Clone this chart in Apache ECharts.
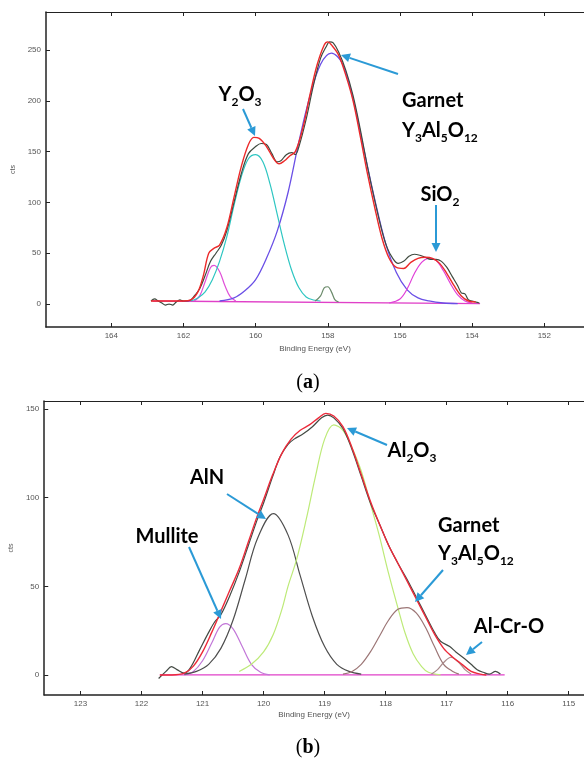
<!DOCTYPE html>
<html><head><meta charset="utf-8">
<script src="https://cdn.jsdelivr.net/npm/echarts@6/dist/echarts.min.js"></script>
<style>html,body{margin:0;padding:0;background:#fff}#c{width:584px;height:759px}</style>
</head><body><div id="c"></div>
<script>
// ---------- (a) Y 3d region ----------
const topXTicks = [164, 162, 160, 158, 156, 154, 152];
const topYTicks = [0, 50, 100, 150, 200, 250];
const topRaw = [[162.9,3],[162.8,5],[162.7,3],[162.6,1],[162.5,-1],[162.4,0],[162.3,-1],[162.2,2],[162.1,4],[162.0,3],[161.9,3],[161.8,4],[161.7,8],[161.55,15],[161.4,28],[161.25,42],[161.1,50],[160.95,58],[160.8,72],[160.6,100],[160.4,128],[160.2,148],[160.0,155],[159.85,158],[159.7,157],[159.55,148],[159.4,140],[159.3,141],[159.15,147],[159.0,149],[158.9,147],[158.8,155],[158.6,182],[158.4,215],[158.2,242],[158.05,253],[157.95,258],[157.85,257],[157.7,248],[157.5,230],[157.3,205],[157.1,172],[156.9,135],[156.7,102],[156.5,72],[156.35,55],[156.2,45],[156.05,40],[155.9,42],[155.75,47],[155.6,49],[155.45,48],[155.3,46],[155.15,44],[155.0,44],[154.85,42],[154.7,36],[154.55,27],[154.4,18],[154.3,11],[154.2,10],[154.1,4],[154.0,3],[153.9,2],[153.8,1]];
const topFit = [[162.9,3],[162.0,3],[161.8,4],[161.6,12],[161.45,28],[161.3,50],[161.15,55],[161.0,58],[160.8,75],[160.6,105],[160.4,135],[160.2,157],[160.05,164],[159.9,163],[159.7,155],[159.5,143],[159.35,138],[159.2,141],[159.05,146],[158.9,150],[158.7,172],[158.5,205],[158.3,235],[158.1,255],[158.0,258],[157.9,255],[157.7,245],[157.5,225],[157.3,200],[157.1,165],[156.9,128],[156.7,95],[156.5,65],[156.3,45],[156.1,36],[155.9,35],[155.7,41],[155.5,45],[155.3,46],[155.1,45],[154.9,40],[154.7,30],[154.5,18],[154.3,8],[154.1,3],[153.9,2]];
const topY2O3 = [[161.8,3],[161.6,6],[161.4,12],[161.2,24],[161.0,42],[160.8,66],[160.6,97],[160.4,125],[160.2,143],[160.0,147],[159.8,140],[159.6,118],[159.4,88],[159.2,58],[159.0,33],[158.8,16],[158.6,7],[158.4,4],[158.2,3]];
const topSmallPeak = [[161.7,3],[161.55,8],[161.4,22],[161.25,36],[161.15,38],[161.0,32],[160.85,18],[160.7,7],[160.55,3]];
const topGarnet = [[161.0,3],[160.6,6],[160.3,13],[160.0,24],[159.7,45],[159.4,72],[159.1,110],[158.8,160],[158.5,204],[158.2,236],[157.9,247],[157.6,237],[157.3,202],[157.0,152],[156.7,103],[156.4,60],[156.1,31],[155.8,14],[155.5,6],[155.2,3],[154.8,1],[154.4,0.5]];
const topSiO2 = [[156.3,1],[156.0,5],[155.8,15],[155.6,30],[155.4,41],[155.2,45],[155.0,43],[154.8,33],[154.6,20],[154.4,9],[154.2,3],[154.0,1]];
const topBump = [[158.35,3],[158.2,8],[158.1,16],[158.0,17],[157.9,12],[157.8,4],[157.7,2]];
const topBase = [[162.86,3],[153.78,0.5]];

// ---------- (b) Al 2p region ----------
const botXTicks = [123, 122, 121, 120, 119, 118, 117, 116, 115];
const botYTicks = [0, 50, 100, 150];
const botRaw = [[121.72,-2],[121.6,2],[121.51,4.7],[121.42,3],[121.3,1],[121.2,4],[121.05,14],[120.9,24],[120.8,30],[120.7,34],[120.55,45],[120.4,58],[120.25,73],[120.1,88],[120.0,97],[119.85,112],[119.73,123],[119.6,130],[119.5,133],[119.35,136],[119.2,140],[119.05,145],[118.95,146.5],[118.85,145],[118.7,139],[118.55,127],[118.4,112],[118.25,97],[118.1,85],[117.95,73],[117.8,63],[117.65,54],[117.5,44],[117.35,34],[117.2,24],[117.1,19],[116.95,16],[116.85,13],[116.7,9],[116.6,6],[116.5,3],[116.4,1.5],[116.3,0.5],[116.2,2],[116.12,0.5]];
const botFit = [[121.7,0],[121.5,0],[121.3,1],[121.15,5],[121.0,13],[120.85,24],[120.7,36],[120.55,48],[120.4,60],[120.25,75],[120.1,90],[120.0,99],[119.85,113],[119.7,125],[119.55,133],[119.4,138],[119.25,141],[119.1,145],[118.98,147.5],[118.85,146],[118.7,140],[118.55,128],[118.4,113],[118.25,98],[118.1,85],[117.95,73],[117.8,63],[117.65,53],[117.5,43],[117.35,33],[117.2,23],[117.05,15],[116.9,10],[116.75,6],[116.6,2],[116.45,0.5],[116.35,0]];
const botMullite = [[121.3,0],[121.15,2],[121.0,8],[120.85,18],[120.72,27],[120.62,29],[120.5,26],[120.35,16],[120.2,6],[120.05,1.5],[119.9,0]];
const botAlN = [[121.3,0.5],[121.1,2],[120.9,6],[120.7,15],[120.5,31],[120.3,54],[120.1,77],[119.84,91],[119.6,79],[119.4,56],[119.2,33],[119.0,16],[118.8,6],[118.6,2],[118.4,0.5]];
const botAl2O3 = [[120.4,2],[120.2,6],[120.0,13],[119.84,23],[119.7,37],[119.6,50],[119.46,65],[119.3,88],[119.15,112],[119.0,133],[118.85,141],[118.7,138],[118.55,128],[118.4,115],[118.22,93],[118.1,78],[117.95,57],[117.8,38],[117.68,23.5],[117.55,12],[117.41,4.7],[117.3,1.5],[117.1,0]];
const botGarnet = [[118.7,0.5],[118.55,2],[118.4,6],[118.25,13],[118.1,22],[117.95,31],[117.8,37],[117.65,38],[117.5,35],[117.35,27],[117.2,16],[117.05,6],[116.9,2],[116.8,0.5]];
const botAlCrO = [[117.25,0.5],[117.15,3],[117.05,7],[116.93,10],[116.8,7],[116.7,3],[116.6,0.5]];
const botBase = [[121.7,0],[116.05,0]];

const chart = echarts.init(document.getElementById('c'), null, {renderer: 'canvas'});

const AX = '#222';
const LBL = {fontSize: 8, color: '#555', fontFamily: 'Liberation Sans'};

function xAxes(grid, min, max, ticks, nameGap) {
  return [
    {type: 'value', gridIndex: grid, inverse: true, min: min, max: max, position: 'bottom',
     axisLine: {show: true, onZero: false, lineStyle: {color: AX, width: 1.5}},
     axisTick: {show: true, inside: true, length: 4, customValues: ticks, lineStyle: {color: AX}},
     axisLabel: Object.assign({show: true, margin: 5, customValues: ticks}, LBL),
     splitLine: {show: false},
     name: 'Binding Energy (eV)', nameLocation: 'middle', nameGap: nameGap,
     nameTextStyle: {fontSize: 8, color: '#555', fontFamily: 'Liberation Sans'}},
    {type: 'value', gridIndex: grid, inverse: true, min: min, max: max, position: 'top',
     axisLine: {show: true, onZero: false, lineStyle: {color: AX, width: 1.2}},
     axisTick: {show: true, inside: true, length: 4, customValues: ticks, lineStyle: {color: AX}},
     axisLabel: {show: false}, splitLine: {show: false}}
  ];
}
function yAxis(grid, min, max, ticks, gap) {
  return {type: 'value', gridIndex: grid, min: min, max: max,
    axisLine: {show: true, onZero: false, lineStyle: {color: AX, width: 1.5}},
    axisTick: {show: true, inside: true, length: 4, customValues: ticks, lineStyle: {color: AX}},
    axisLabel: Object.assign({show: true, margin: 5, customValues: ticks}, LBL),
    splitLine: {show: false},
    name: 'cts', nameLocation: 'middle', nameGap: gap, nameRotate: 90,
    nameTextStyle: {fontSize: 7, color: '#555', fontFamily: 'Liberation Sans'}};
}
function ln(data, color, xi, yi, w, z) {
  return {type: 'line', data: data, xAxisIndex: xi, yAxisIndex: yi, showSymbol: false, smooth: 0.35,
    silent: true, lineStyle: {color: color, width: w || 1.2}, z: z || 2, animation: false};
}

const ARROW = '#2b9ad6';
function arrow(x1, y1, x2, y2) {
  const dx = x2 - x1, dy = y2 - y1, L = Math.sqrt(dx*dx + dy*dy);
  const ux = dx / L, uy = dy / L, hl = 9, hw = 4.5;
  const bx = x2 - ux*hl, by = y2 - uy*hl;
  return [
    {type: 'line', silent: true, z: 20, shape: {x1: x1, y1: y1, x2: bx, y2: by}, style: {stroke: ARROW, lineWidth: 2}},
    {type: 'polygon', silent: true, z: 20, shape: {points: [[x2, y2], [bx - uy*hw, by + ux*hw], [bx + uy*hw, by - ux*hw]]}, style: {fill: ARROW}}
  ];
}
const RICH = {
  b: {fontSize: 20, fontWeight: 'bold', fontFamily: 'Lato', color: '#1a1a1a', lineHeight: 24, verticalAlign: 'bottom', padding: [0,0,3,0]},
  s: {fontSize: 12, fontWeight: 'bold', fontFamily: 'Lato', color: '#1a1a1a', lineHeight: 24, verticalAlign: 'bottom', padding: [0,0,0,0]}
};
function label(text, x, y, align) {
  return {type: 'text', silent: true, z: 20, style: {text: text, x: x, y: y, align: align || 'center', verticalAlign: 'middle', rich: RICH}};
}

const option = {
  animation: false,
  backgroundColor: '#fff',
  grid: [
    {left: 46, top: 12, right: -3, height: 315},
    {left: 42, top: 401, right: -3, height: 294}
  ],
  xAxis: xAxes(0, 150.9, 165.81, topXTicks, 18).concat(xAxes(1, 114.75, 123.594, botXTicks, 16)),
  yAxis: [yAxis(0, -22.6, 287.4, topYTicks, 23), yAxis(1, -11.3, 154.5, botYTicks, 26)],
  series: [
    ln(topBase, '#e040c8', 0, 0, 1.3),
    ln(topSmallPeak, '#e050d8', 0, 0),
    ln(topY2O3, '#2ec6c2', 0, 0),
    ln(topGarnet, '#6a4fe6', 0, 0, 1.3),
    ln(topSiO2, '#e040d8', 0, 0),
    ln(topBump, '#6a8a6a', 0, 0),
    ln(topRaw, '#3f4a3f', 0, 0, 1.2, 3),
    ln(topFit, '#ec2a2a', 0, 0, 1.4, 4),
    ln(botBase, '#e040c8', 2, 1, 1.3),
    ln(botMullite, '#c277d8', 2, 1),
    ln(botAlN, '#4e4e4e', 2, 1),
    ln(botAl2O3, '#bdea78', 2, 1),
    ln(botGarnet, '#9c7676', 2, 1),
    ln(botAlCrO, '#a88a8a', 2, 1),
    ln(botRaw, '#444a44', 2, 1, 1.2, 3),
    ln(botFit, '#ec2a3a', 2, 1, 1.4, 4)
  ],
  graphic: [].concat(
    arrow(243, 109, 255, 136),
    arrow(398, 74, 341, 55),
    arrow(436, 205, 436, 252),
    arrow(387, 445, 347, 428),
    arrow(227, 494, 266, 519),
    arrow(189, 547, 221, 619),
    arrow(443, 570, 415, 602),
    arrow(482, 642, 466, 655),
    [
      label('{b|Y}{s|2}{b|O}{s|3}', 240, 96),
      label('{b|Garnet}', 402, 102, 'left'),
      label('{b|Y}{s|3}{b|Al}{s|5}{b|O}{s|12}', 402, 132, 'left'),
      label('{b|SiO}{s|2}', 440, 196),
      label('{b|Al}{s|2}{b|O}{s|3}', 412, 452),
      label('{b|AlN}', 207, 479),
      label('{b|Mullite}', 167, 538),
      label('{b|Garnet}', 438, 527, 'left'),
      label('{b|Y}{s|3}{b|Al}{s|5}{b|O}{s|12}', 438, 555, 'left'),
      label('{b|Al-Cr-O}', 509, 628),
      {type: 'text', silent: true, style: {text: '{p|(}{q|a}{p|)}', x: 308, y: 383, align: 'center', verticalAlign: 'middle',
        rich: {p: {fontSize: 20, fontFamily: 'Liberation Serif', color: '#111'}, q: {fontSize: 20, fontWeight: 'bold', fontFamily: 'Liberation Serif', color: '#111'}}}},
      {type: 'text', silent: true, style: {text: '{p|(}{q|b}{p|)}', x: 308, y: 748, align: 'center', verticalAlign: 'middle',
        rich: {p: {fontSize: 20, fontFamily: 'Liberation Serif', color: '#111'}, q: {fontSize: 20, fontWeight: 'bold', fontFamily: 'Liberation Serif', color: '#111'}}}}
    ]
  )
};
chart.setOption(option);
</script>
</body></html>
